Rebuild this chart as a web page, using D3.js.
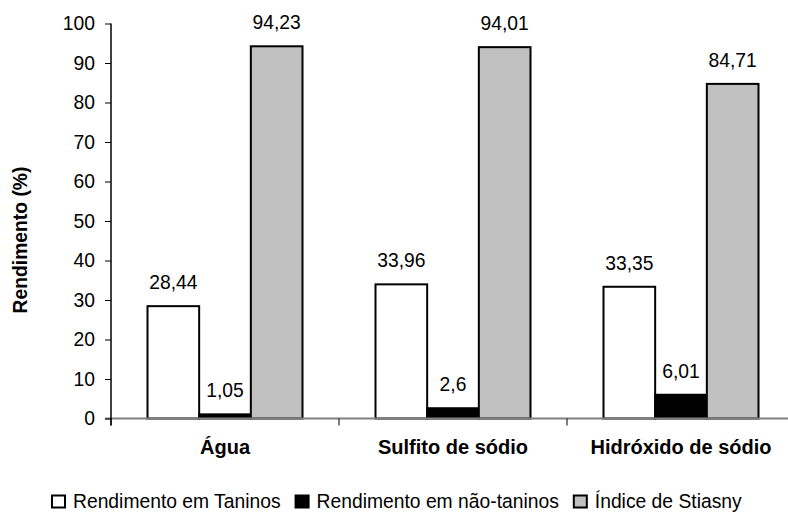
<!DOCTYPE html>
<html>
<head>
<meta charset="utf-8">
<script src="https://cdn.jsdelivr.net/npm/d3@7"></script>
<style>
  html, body { margin: 0; padding: 0; background: #fff; }
  svg { display: block; font-family: "Liberation Sans", Arial, sans-serif; }
</style>
</head>
<body>
<svg id="chart" width="788" height="512"></svg>
<script>
const categories = ["Água", "Sulfito de sódio", "Hidróxido de sódio"];
const seriesNames = ["Rendimento em Taninos", "Rendimento em não-taninos", "Índice de Stiasny"];
const taninos = [28.44, 33.96, 33.35];
const naoTaninos = [1.05, 2.6, 6.01];
const stiasny = [94.23, 94.01, 84.71];
const valueLabels = [["28,44", "33,96", "33,35"], ["1,05", "2,6", "6,01"], ["94,23", "94,01", "84,71"]];
const yTicks = [0, 10, 20, 30, 40, 50, 60, 70, 80, 90, 100];
const fills = ["#ffffff", "#000000", "#c0c0c0"];

const series = [taninos, naoTaninos, stiasny];

const svg = d3.select("#chart");
const plotLeft = 111, plotRight = 795, plotTop = 23.5, plotBottom = 418.5;
const fontSize = 19.3;
const boldSize = 20;
const fontFam = "'Liberation Sans', Arial, sans-serif";

const y = d3.scaleLinear().domain([0, 100]).range([plotBottom, plotTop]);
const x0 = d3.scaleBand().domain(categories).range([plotLeft, plotRight]);
const groupW = 155;
const x1 = d3.scaleBand().domain(d3.range(series.length)).range([0, groupW]);
const groupOffset = (x0.bandwidth() - groupW) / 2;

// bars
series.forEach((vals, si) => {
    svg.append("g")
        .selectAll("rect")
        .data(vals)
        .enter()
        .append("rect")
        .attr("x", (d, i) => x0(categories[i]) + groupOffset + x1(si))
        .attr("y", d => y(d))
        .attr("width", x1.bandwidth())
        .attr("height", d => plotBottom - y(d))
        .attr("fill", fills[si])
        .attr("stroke", "#000")
        .attr("stroke-width", 2);

    svg.append("g")
        .selectAll("text")
        .data(vals)
        .enter()
        .append("text")
        .attr("x", (d, i) => x0(categories[i]) + groupOffset + x1(si) + x1.bandwidth() / 2)
        .attr("y", d => y(d) - 17)
        .attr("text-anchor", "middle")
        .attr("font-size", fontSize)
        .attr("fill", "#000")
        .text((d, i) => valueLabels[si][i]);
});

// x axis line (grey)
svg.append("line")
    .attr("x1", 105).attr("x2", plotRight)
    .attr("y1", plotBottom).attr("y2", plotBottom)
    .attr("stroke", "#808080").attr("stroke-width", 2);

// category ticks
svg.append("g")
    .selectAll("line")
    .data([plotLeft, ...categories.slice(1).map(c => x0(c))])
    .enter()
    .append("line")
    .attr("x1", d => d).attr("x2", d => d)
    .attr("y1", plotBottom).attr("y2", plotBottom + 7)
    .attr("stroke", "#000").attr("stroke-width", 1);

// y axis
const yAxis = svg.append("g")
    .attr("transform", `translate(${plotLeft},0)`)
    .call(d3.axisLeft(y).tickValues(yTicks).tickSize(6).tickPadding(10).tickFormat(d3.format("d")));
yAxis.select(".domain").remove();
yAxis.selectAll(".tick line").attr("stroke", "#000");
yAxis.selectAll(".tick text")
    .attr("font-size", fontSize)
    .attr("font-family", fontFam)
    .attr("fill", "#000");
svg.append("line")
    .attr("x1", plotLeft).attr("x2", plotLeft)
    .attr("y1", plotTop).attr("y2", plotBottom + 7)
    .attr("stroke", "#000").attr("stroke-width", 1.5);

// category labels
svg.append("g")
    .selectAll("text")
    .data(categories)
    .enter()
    .append("text")
    .attr("x", d => x0(d) + x0.bandwidth() / 2)
    .attr("y", 454)
    .attr("text-anchor", "middle")
    .attr("font-size", boldSize)
    .attr("font-weight", "bold")
    .text(d => d);

// y title
svg.append("text")
    .attr("transform", "translate(27,240) rotate(-90)")
    .attr("text-anchor", "middle")
    .attr("font-size", fontSize)
    .attr("font-weight", "bold")
    .text("Rendimento (%)");

// legend
let lx = 52;
seriesNames.forEach((name, i) => {
    svg.append("rect")
        .attr("x", lx).attr("y", 495.5)
        .attr("width", 13).attr("height", 12)
        .attr("fill", fills[i])
        .attr("stroke", "#000").attr("stroke-width", 2);
    const t = svg.append("text")
        .attr("x", lx + 21).attr("y", 508)
        .attr("font-size", fontSize)
        .text(name);
    lx += 21 + t.node().getComputedTextLength() + 15;
});
</script>
</body>
</html>
